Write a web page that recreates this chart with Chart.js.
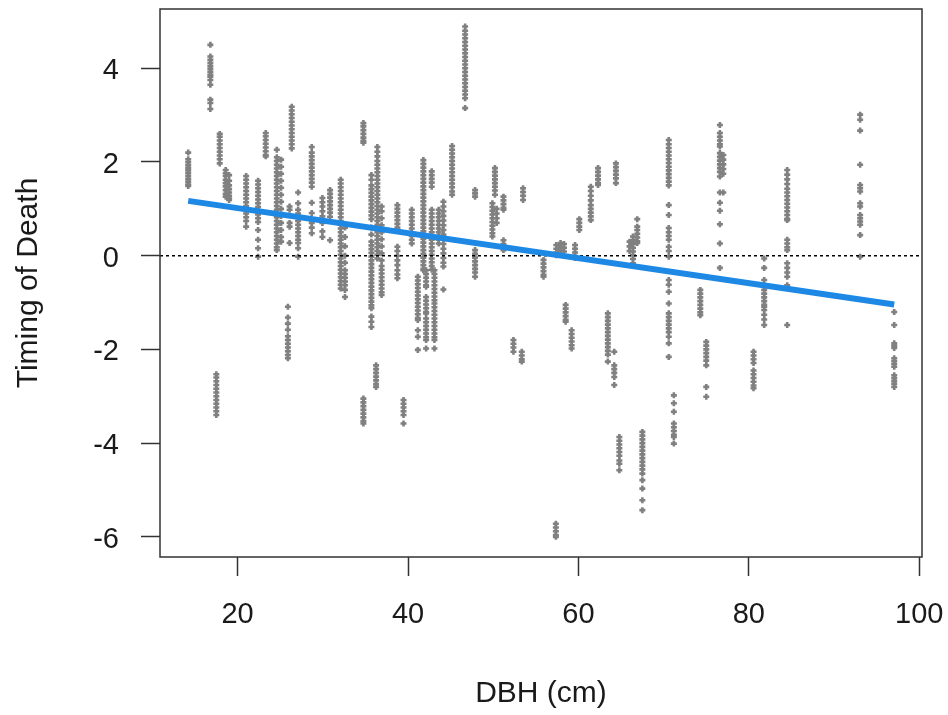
<!DOCTYPE html>
<html>
<head>
<meta charset="utf-8">
<script src="https://cdn.jsdelivr.net/npm/chart.js@4.4.1/dist/chart.umd.min.js"></script>
<style>
html, body { margin: 0; padding: 0; background: #ffffff; }
#wrap { width: 948px; height: 715px; }
</style>
</head>
<body>
<div id="wrap"><canvas id="c" width="948" height="715"></canvas></div>
<script>
// Stem diameter (cm) of each tree; each tree has a column of timing-of-death draws
const stemDbh = [
  14.2, 16.8, 17.5, 17.9, 18.6, 19.0, 21.0, 22.4, 23.3, 24.6,
  25.1, 25.9, 26.1, 26.35, 27.1, 28.7, 29.95, 30.85, 32.1, 32.6,
  34.76, 35.7, 36.25, 36.4, 36.9, 38.75, 39.47, 40.44, 41.15, 41.8,
  42.12, 42.78, 43.1, 43.6, 44.15, 45.17, 46.7, 47.87, 49.9, 50.2,
  50.4, 51.2, 52.37, 53.35, 53.5, 55.9, 57.35, 57.4, 57.9, 58.3,
  58.5, 59.2, 59.6, 60.1, 61.45, 62.3, 63.45, 64.2, 64.4, 64.8,
  66.0, 66.4, 66.9, 67.5, 70.6, 71.2, 74.3, 75.0, 76.6, 77.0,
  80.55, 81.8, 84.5, 93.06, 97.06
];

const stemTiming = [
  [2.20, 2.06, 2.00, 1.94, 1.88, 1.82, 1.76, 1.70, 1.64, 1.58, 1.52, 1.49],
  [4.50, 4.25, 4.18, 4.11, 4.04, 3.98, 3.92, 3.86, 3.82, 3.75, 3.65, 3.33, 3.26, 3.13],
  [-2.53, -2.60, -2.68, -2.76, -2.84, -2.92, -3.00, -3.08, -3.16, -3.24, -3.32, -3.40],
  [2.60, 2.54, 2.46, 2.38, 2.30, 2.22, 2.14, 2.06, 1.97],
  [1.83, 1.76, 1.70, 1.62, 1.55, 1.48, 1.40, 1.32, 1.26],
  [1.72, 1.60, 1.50, 1.42, 1.35, 1.28, 1.22, 1.19],
  [1.70, 1.62, 1.54, 1.46, 1.38, 1.30, 1.22, 1.14, 1.06, 0.98, 0.90, 0.82, 0.74, 0.62],
  [1.60, 1.52, 1.44, 1.36, 1.28, 1.20, 1.12, 1.04, 0.96, 0.88, 0.80, 0.72, 0.55, 0.34, 0.16, -0.02],
  [2.62, 2.55, 2.47, 2.39, 2.31, 2.23, 2.15, 2.12],
  [2.26, 2.10, 2.02, 1.94, 1.86, 1.78, 1.70, 1.62, 1.54, 1.46, 1.38, 1.30, 1.22, 1.14, 1.06, 0.98, 0.90, 0.82, 0.74, 0.66, 0.58, 0.50, 0.42, 0.34, 0.26, 0.18, 0.12],
  [2.05, 1.90, 1.75, 1.60, 1.45, 1.30, 1.15, 1.00, 0.85, 0.70, 0.55, 0.40, 0.30],
  [-1.09, -1.32, -1.45, -1.58, -1.72, -1.80, -1.88, -1.96, -2.04, -2.12, -2.19],
  [1.05, 0.98, 0.70, 0.62, 0.27],
  [3.18, 3.10, 3.02, 2.94, 2.86, 2.78, 2.70, 2.62, 2.54, 2.46, 2.38, 2.29],
  [1.35, 1.12, 0.98, 0.90, 0.82, 0.74, 0.66, 0.58, 0.50, 0.42, 0.34, 0.27, 0.16, -0.02],
  [2.32, 2.20, 2.12, 2.04, 1.96, 1.88, 1.80, 1.72, 1.64, 1.56, 1.47, 1.13, 0.91, 0.70, 0.60, 0.48],
  [1.23, 1.14, 1.05, 0.95, 0.84, 0.70, 0.52, 0.40],
  [1.40, 1.32, 1.24, 1.16, 1.08, 1.00, 0.92, 0.83, 0.33],
  [1.62, 1.54, 1.46, 1.38, 1.30, 1.22, 1.14, 1.06, 0.98, 0.90, 0.82, 0.74, 0.66, 0.58, 0.50, 0.42, 0.34, 0.26, 0.18, 0.10, 0.02, -0.06, -0.14, -0.22, -0.30, -0.38, -0.46, -0.54, -0.62, -0.70],
  [0.60, 0.40, 0.20, 0.00, -0.15, -0.31, -0.39, -0.47, -0.55, -0.63, -0.73, -0.88],
  [2.83, 2.76, 2.68, 2.60, 2.52, 2.45, 2.41, -3.05, -3.13, -3.21, -3.29, -3.37, -3.45, -3.53, -3.58],
  [1.72, 1.62, 1.50, 1.42, 1.34, 1.26, 1.18, 1.10, 1.02, 0.94, 0.86, 0.78, 0.60, 0.45, 0.30, 0.22, 0.14, 0.06, -0.02, -0.10, -0.18, -0.26, -0.34, -0.42, -0.50, -0.58, -0.66, -0.74, -0.82, -0.90, -0.98, -1.06, -1.12, -1.30, -1.41, -1.52],
  [-2.34, -2.42, -2.50, -2.58, -2.66, -2.74, -2.80],
  [2.32, 2.22, 2.12, 2.02, 1.94, 1.86, 1.78, 1.70, 1.62, 1.54, 1.46, 1.38, 1.30, 1.22, 1.14, 1.06, 0.98, 0.90, 0.82, 0.74, 0.66, 0.58, 0.50, 0.42, 0.34, 0.26, 0.18, 0.10, 0.02, -0.06],
  [1.05, 0.95, 0.80, 0.65, 0.50, 0.35, 0.20, 0.05, -0.10, -0.22, -0.30, -0.38, -0.46, -0.54, -0.62, -0.70, -0.78, -0.84],
  [1.08, 1.00, 0.92, 0.84, 0.76, 0.68, 0.60, 0.55, 0.19, 0.10, 0.00, -0.10, -0.20, -0.31, -0.40, -0.48],
  [-3.08, -3.16, -3.24, -3.32, -3.40, -3.58],
  [0.98, 0.90, 0.82, 0.74, 0.66, 0.58, 0.50, 0.42, 0.34, 0.26],
  [-0.45, -0.53, -0.61, -0.69, -0.77, -0.85, -0.93, -1.01, -1.09, -1.17, -1.25, -1.33, -1.37, -1.59, -1.73, -2.01],
  [2.04, 1.96, 1.88, 1.80, 1.72, 1.64, 1.56, 1.48, 1.40, 1.32, 1.24, 1.16, 1.08, 1.00, 0.92, 0.84, 0.76, 0.68, 0.60, 0.52, 0.44, 0.36, 0.28, 0.20, 0.12, 0.04, -0.04, -0.12, -0.20, -0.28, -0.31],
  [-0.31, -0.39, -0.47, -0.55, -0.63, -0.66, -0.88, -0.96, -1.04, -1.12, -1.20, -1.23, -1.34, -1.42, -1.50, -1.58, -1.66, -1.74, -1.80, -1.98],
  [1.80, 1.72, 1.64, 1.56, 1.47, 0.98, 0.90, 0.82, 0.74, 0.66, 0.58, 0.50, 0.42, 0.34, 0.26, 0.18, 0.10, 0.02, -0.06, -0.14, -0.22, -0.30],
  [-0.31, -0.39, -0.47, -0.55, -0.63, -0.71, -0.79, -0.87, -0.95, -1.02, -1.10, -1.18, -1.26, -1.34, -1.42, -1.50, -1.58, -1.66, -1.74, -1.80, -1.98],
  [0.98, 0.90, 0.82, 0.74, 0.66, 0.58, 0.50, 0.42, 0.34, 0.26],
  [1.15, 1.05, 0.95, 0.85, 0.75, 0.65, 0.55, 0.45, 0.35, 0.25, 0.15, 0.05, -0.05, -0.15, -0.23, -0.72],
  [2.34, 2.26, 2.18, 2.10, 2.02, 1.94, 1.86, 1.78, 1.70, 1.62, 1.54, 1.46, 1.37, 1.30],
  [4.89, 4.80, 4.72, 4.64, 4.56, 4.48, 4.40, 4.32, 4.24, 4.16, 4.08, 4.00, 3.92, 3.84, 3.76, 3.68, 3.60, 3.52, 3.44, 3.36, 3.15],
  [1.40, 1.33, 1.26, 0.12, 0.04, -0.04, -0.12, -0.20, -0.28, -0.36, -0.45],
  [1.12, 1.04, 0.96, 0.88, 0.80, 0.72, 0.64, 0.56, 0.48, 0.41],
  [1.87, 1.79, 1.71, 1.63, 1.55, 1.47, 1.39, 1.30],
  [1.00, 0.90, 0.80, 0.70],
  [1.26, 1.18, 1.10, 1.02, 0.98, 0.33, 0.25, 0.18, 0.12],
  [-1.80, -1.88, -1.96, -2.05],
  [-2.05, -2.13, -2.21, -2.26],
  [1.44, 1.36, 1.28, 1.19],
  [-0.09, -0.17, -0.25, -0.33, -0.41, -0.45],
  [-5.72, -5.80, -5.88, -5.96, -6.00],
  [0.23, 0.15, 0.07, 0.01],
  [0.27, 0.19, 0.11, 0.03],
  [0.25, 0.17, 0.09],
  [-1.05, -1.13, -1.21, -1.29, -1.37, -1.41],
  [-1.59, -1.67, -1.75, -1.83, -1.91, -1.98],
  [0.23, 0.15, 0.07, -0.01, -0.05],
  [0.78, 0.70, 0.62, 0.55],
  [1.47, 1.38, 1.28, 1.18, 1.08, 1.00, 0.92, 0.84, 0.76],
  [1.87, 1.79, 1.71, 1.63, 1.55, 1.51],
  [-1.23, -1.31, -1.39, -1.47, -1.55, -1.63, -1.71, -1.79, -1.87, -1.95, -2.03, -2.11, -2.26],
  [-2.05, -2.34, -2.42, -2.50, -2.59, -2.76],
  [1.97, 1.89, 1.81, 1.73, 1.65, 1.55],
  [-3.87, -3.95, -4.03, -4.11, -4.19, -4.27, -4.37, -4.44, -4.58],
  [0.30, 0.20, 0.10],
  [0.41, 0.33, 0.25, 0.17, 0.09, 0.01, -0.07, -0.16],
  [0.78, 0.62, 0.55, 0.47, 0.39, 0.31, 0.27],
  [-3.76, -3.84, -3.92, -4.00, -4.08, -4.16, -4.24, -4.32, -4.40, -4.48, -4.56, -4.65, -4.79, -4.97, -5.22, -5.43],
  [2.47, 2.38, 2.30, 2.22, 2.14, 2.06, 1.98, 1.90, 1.82, 1.74, 1.66, 1.58, 1.50, 1.08, 0.87, 0.59, 0.50, 0.42, 0.34, 0.19, 0.10, -0.02, -0.52, -0.62, -0.77, -1.02, -1.23, -1.31, -1.39, -1.47, -1.55, -1.63, -1.73, -1.87, -2.16],
  [-2.98, -3.15, -3.33, -3.58, -3.66, -3.74, -3.82, -3.87, -4.01],
  [-0.73, -0.81, -0.89, -0.97, -1.05, -1.13, -1.21, -1.27],
  [-1.84, -1.92, -2.00, -2.08, -2.16, -2.24, -2.34, -2.80, -3.01],
  [2.79, 2.62, 2.54, 2.46, 2.38, 2.33, 2.19, 2.11, 2.03, 1.95, 1.87, 1.79, 1.69, 1.35, 1.13, 0.96, 0.67, 0.26, -0.26],
  [2.15, 2.05, 1.95, 1.85, 1.75, 1.35],
  [-2.05, -2.13, -2.21, -2.29, -2.45, -2.53, -2.61, -2.69, -2.77, -2.83],
  [-0.06, -0.26, -0.52, -0.73, -0.81, -0.89, -0.97, -1.05, -1.09, -1.16, -1.26, -1.36, -1.48],
  [1.83, 1.73, 1.63, 1.53, 1.43, 1.35, 1.27, 1.19, 1.11, 1.03, 0.95, 0.87, 0.79, 0.76, 0.34, 0.26, 0.18, 0.12, -0.16, -0.26, -0.36, -0.45, -0.63, -1.48],
  [3.01, 2.90, 2.67, 1.94, 1.51, 1.44, 1.37, 1.12, 1.05, 0.87, 0.80, 0.73, 0.66, 0.44, -0.02],
  [-1.20, -1.48, -1.87, -1.92, -1.97, -2.19, -2.25, -2.31, -2.37, -2.55, -2.61, -2.67, -2.73, -2.80]
];

// Fitted linear trend of timing against DBH, at the smallest and largest stems
const fitDbh = [14.2, 97.06];
const fitTiming = [1.17, -1.04];

// Axis ranges and tick labels
const xRange = [10.89, 100.32];
const yRange = [-6.43, 5.265];
const xTicks = [20, 40, 60, 80, 100];
const yTicks = [-6, -4, -2, 0, 2, 4];

const drawPoints = stemDbh.flatMap((x, i) => stemTiming[i].map(y => ({ x: x, y: y })));
const fitPoints = fitDbh.map((x, i) => ({ x: x, y: fitTiming[i] }));
const zeroPoints = [{ x: xRange[0], y: 0 }, { x: xRange[1], y: 0 }];

const FONT = "'Liberation Sans', Arial, 'DejaVu Sans', sans-serif";
const INK = '#1a1a1a';

// Box around the plotting region
const plotFrame = {
  id: 'plotFrame',
  afterDatasetsDraw(chart) {
    const { ctx, chartArea: a } = chart;
    ctx.save();
    ctx.strokeStyle = '#333333';
    ctx.lineWidth = 1.5;
    ctx.strokeRect(a.left, a.top, a.right - a.left, a.bottom - a.top);
    ctx.restore();
  }
};

// Keep the plotting region fixed: no extra room reserved for overhanging end labels
function noLabelOverhang(s) {
  s.paddingTop = 0;
  s.paddingBottom = 0;
  s.paddingLeft = 0;
  s.paddingRight = 0;
}

new Chart(document.getElementById('c'), {
  type: 'scatter',
  data: {
    datasets: [
      {
        label: 'Trend',
        data: fitPoints,
        showLine: true,
        borderColor: '#1E88E5',
        borderWidth: 6,
        pointRadius: 0,
        order: 0
      },
      {
        label: 'Zero',
        data: zeroPoints,
        showLine: true,
        borderColor: '#000000',
        borderWidth: 1.5,
        borderDash: [3, 3],
        pointRadius: 0,
        order: 1
      },
      {
        label: 'Timing of death',
        data: drawPoints,
        showLine: false,
        pointStyle: 'cross',
        pointRadius: 3,
        borderWidth: 2.6,
        borderColor: '#808080',
        backgroundColor: '#808080',
        order: 2
      }
    ]
  },
  options: {
    responsive: false,
    animation: false,
    events: [],
    devicePixelRatio: 1,
    layout: { padding: { top: 9, right: 26, bottom: 0, left: 0 } },
    plugins: {
      legend: { display: false },
      tooltip: { enabled: false },
      title: { display: false }
    },
    scales: {
      x: {
        type: 'linear',
        min: xRange[0],
        max: xRange[1],
        afterBuildTicks: s => { s.ticks = xTicks.map(v => ({ value: v })); },
        afterFit: s => { s.height = 158; noLabelOverhang(s); },
        grid: {
          drawOnChartArea: false,
          drawTicks: true,
          tickLength: 19,
          tickWidth: 1.5,
          tickColor: '#333333'
        },
        border: { display: false },
        ticks: {
          autoSkip: false,
          maxRotation: 0,
          padding: 22,
          color: INK,
          font: { family: FONT, size: 29 },
          callback: v => String(v)
        },
        title: {
          display: true,
          text: 'DBH (cm)',
          color: INK,
          font: { family: FONT, size: 30 },
          padding: { top: 0, bottom: 3 }
        }
      },
      y: {
        type: 'linear',
        min: yRange[0],
        max: yRange[1],
        afterBuildTicks: s => { s.ticks = yTicks.map(v => ({ value: v })); },
        afterFit: s => { s.width = 160; noLabelOverhang(s); },
        grid: {
          drawOnChartArea: false,
          drawTicks: true,
          tickLength: 19,
          tickWidth: 1.5,
          tickColor: '#333333'
        },
        border: { display: false },
        ticks: {
          autoSkip: false,
          padding: 22,
          labelOffset: 3,
          color: INK,
          font: { family: FONT, size: 29 },
          callback: v => String(v)
        },
        title: {
          display: true,
          text: 'Timing of Death',
          color: INK,
          font: { family: FONT, size: 30 },
          padding: { top: 11, bottom: 0 }
        }
      }
    }
  },
  plugins: [plotFrame]
});
</script>
</body>
</html>
